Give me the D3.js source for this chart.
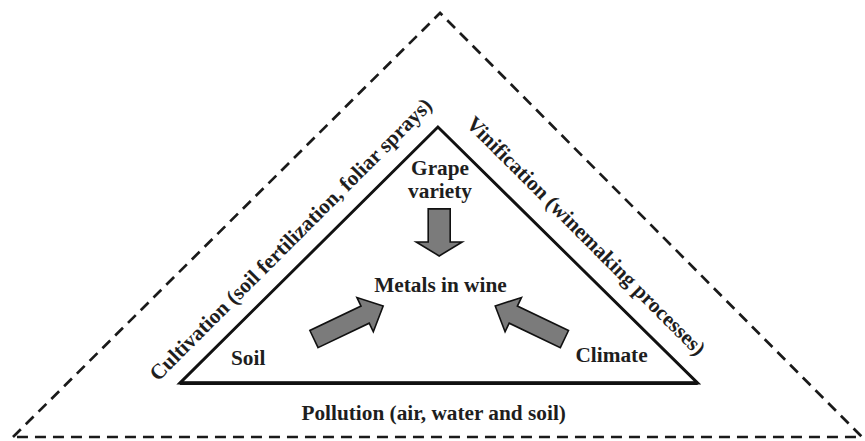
<!DOCTYPE html>
<html>
<head>
<meta charset="utf-8">
<script src="https://cdn.jsdelivr.net/npm/d3@7"></script>
<style>
  body { margin: 0; background: #fff; }
</style>
</head>
<body>
<div id="chart"></div>
<script>
// DATA (labels of the diagram)
const sideLabels = ["Cultivation (soil fertilization, foliar sprays)", "Vinification (winemaking processes)", "Pollution (air, water and soil)"]
const factorLabels = [["Grape", "variety"], ["Soil"], ["Climate"]]
const centerLabel = "Metals in wine"

const width = 865, height = 441
const FONT = "'Liberation Serif', 'DejaVu Serif', serif"

// SCALE: diagram units -> pixels (x: -1..1, y: 0 = base of outer triangle, 1 = apex)
const xScale = d3.scaleLinear().domain([-1, 1]).range([13, 862])
const yScale = d3.scaleLinear().domain([0, 1]).range([437, 13])

const svg = d3.select("#chart")
    .append("svg")
    .attr("width", width)
    .attr("height", height)

const pt = (x, y) => [xScale(x), yScale(y)]

// outer dashed triangle
const outer = [pt(-1, 0), pt(0.006, 1), pt(1, 0)]
svg.append("path")
    .attr("d", d3.line()(outer) + "Z")
    .attr("fill", "none")
    .attr("stroke", "#1a1a1a")
    .attr("stroke-width", 2.7)
    .attr("stroke-dasharray", "11,7")

// inner solid triangle
const inner = [pt(-0.607, 0.127), pt(0.001, 0.731), pt(0.613, 0.127)]
svg.append("path")
    .attr("d", d3.line()(inner) + "Z")
    .attr("fill", "none")
    .attr("stroke", "#111")
    .attr("stroke-width", 2.9)
    .attr("stroke-linejoin", "miter")
// base is drawn a little heavier
svg.append("line")
    .attr("x1", inner[0][0]).attr("y1", inner[0][1])
    .attr("x2", inner[2][0]).attr("y2", inner[2][1])
    .attr("stroke", "#111")
    .attr("stroke-width", 3.8)

// block arrows
function arrow(tail, tip, sw, hw, hl) {
    const dx = tip[0] - tail[0], dy = tip[1] - tail[1]
    const len = Math.hypot(dx, dy)
    const ux = dx / len, uy = dy / len, nx = -uy, ny = ux
    const bx = tip[0] - ux * hl, by = tip[1] - uy * hl
    return [
        [tail[0] + nx * sw / 2, tail[1] + ny * sw / 2],
        [bx + nx * sw / 2, by + ny * sw / 2],
        [bx + nx * hw / 2, by + ny * hw / 2],
        tip,
        [bx - nx * hw / 2, by - ny * hw / 2],
        [bx - nx * sw / 2, by - ny * sw / 2],
        [tail[0] - nx * sw / 2, tail[1] - ny * sw / 2]
    ]
}
const arrows = [
    arrow(pt(0.004, 0.538), pt(0.004, 0.427), 22, 46, 14),
    arrow(pt(-0.291, 0.231), pt(-0.128, 0.309), 19, 38, 20),
    arrow(pt(0.299, 0.231), pt(0.136, 0.309), 19, 38, 20)
]
svg.append("g")
    .selectAll("path")
    .data(arrows)
    .join("path")
    .attr("d", d => d3.line()(d) + "Z")
    .attr("fill", "#7b7b7b")
    .attr("stroke", "#111")
    .attr("stroke-width", 1.6)
    .attr("stroke-linejoin", "miter")

const fs = 21.3

// centre label
svg.append("text")
    .attr("x", xScale(0.007)).attr("y", yScale(0.342))
    .attr("text-anchor", "middle")
    .attr("font-family", FONT)
    .attr("font-weight", "bold")
    .attr("fill", "#1e1e1e")
    .attr("font-size", fs)
    .text(centerLabel)

// factor labels
const factorPos = [pt(0.006, 0.618), pt(-0.446, 0.170), pt(0.41, 0.177)]
svg.append("g")
    .selectAll("text")
    .data(factorLabels)
    .join("text")
    .attr("text-anchor", "middle")
    .attr("font-family", FONT)
    .attr("font-weight", "bold")
    .attr("fill", "#1e1e1e")
    .attr("font-size", fs)
    .attr("transform", (d, i) => `translate(${factorPos[i][0]},${factorPos[i][1]})`)
    .selectAll("tspan")
    .data(d => d)
    .join("tspan")
    .attr("x", 0)
    .attr("y", (d, i) => i * 23)
    .text(d => d)

// side labels
const sidePos = [
    { p: pt(-0.346, 0.466), r: -45 },
    { p: pt(0.35, 0.474), r: 45 },
    { p: pt(-0.009, 0.040), r: 0 }
]
svg.append("g")
    .selectAll("text")
    .data(sideLabels)
    .join("text")
    .attr("text-anchor", "middle")
    .attr("dominant-baseline", (d, i) => i < 2 ? "central" : "auto")
    .attr("font-family", FONT)
    .attr("font-weight", "bold")
    .attr("fill", "#1e1e1e")
    .attr("font-size", fs)
    .attr("transform", (d, i) => `translate(${sidePos[i].p[0]},${sidePos[i].p[1]}) rotate(${sidePos[i].r})`)
    .text(d => d)
</script>
</body>
</html>
